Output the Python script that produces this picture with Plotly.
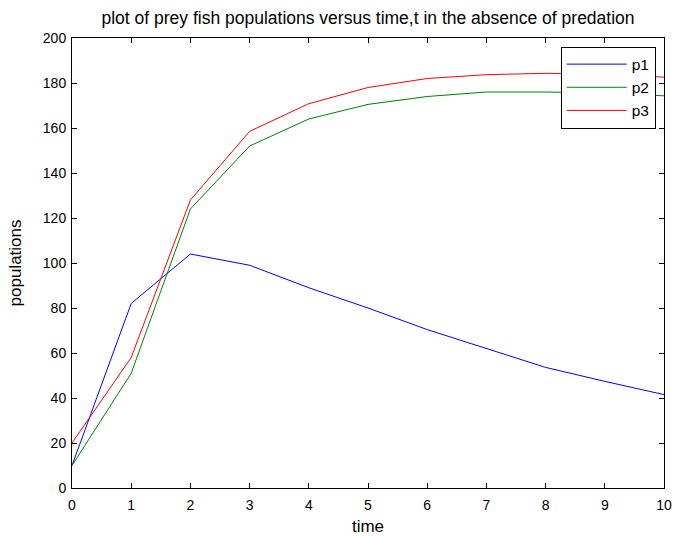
import plotly.graph_objects as go

t = [0, 1, 2, 3, 4, 5, 6, 7, 8, 9, 10]
p1 = [10, 82, 104, 99, 89, 80, 70.4, 62, 53.6, 47.4, 41.5]
p2 = [10, 51, 124, 152, 164, 170.5, 174, 176, 176, 175.5, 174.3]
p3 = [20, 58, 128, 158.5, 170.8, 178, 182, 183.7, 184.3, 184, 182.6]

series = [("p1", p1, "#0000ff"), ("p2", p2, "#008000"), ("p3", p3, "#ff0000")]

fig = go.Figure()
for name, vals, col in series:
    fig.add_trace(go.Scatter(x=t, y=vals, mode="lines", name=name,
                             line=dict(color=col, width=1)))

axis_common = dict(showgrid=False, zeroline=False, showline=True, mirror="ticks",
                   linecolor="black", linewidth=1, ticks="inside", ticklen=5,
                   tickcolor="black", tickfont=dict(size=14, color="black"),
                   automargin=False)

fig.update_layout(
    width=675, height=536,
    paper_bgcolor="white", plot_bgcolor="white",
    font=dict(family="Liberation Sans, Arial, sans-serif", color="black", size=14),
    margin=dict(l=72, r=11, t=38, b=48, autoexpand=False),
    title=dict(text="plot of prey fish populations versus time,t in the absence of predation",
               x=(72 + 664) / 2 / 675, xanchor="center", y=1 - 18 / 536, yanchor="middle",
               font=dict(size=17.5)),
    xaxis=dict(range=[0, 10], tickvals=list(range(11)), ticklabelstandoff=4,
               title=dict(text="time", standoff=8), **axis_common),
    yaxis=dict(range=[0, 200], tickvals=list(range(0, 201, 20)), ticklabelstandoff=2,
               title=dict(text="populations", standoff=16), **axis_common),
    legend=dict(x=0.986, y=0.981, xanchor="right", yanchor="top",
                bordercolor="black", borderwidth=1, bgcolor="white",
                font=dict(size=15.5), itemwidth=60, tracegroupgap=0),
    showlegend=True,
)

fig.write_html("out.html", config={"displayModeBar": False},
               post_script="document.body.style.margin='0';document.documentElement.style.overflow='hidden';")
